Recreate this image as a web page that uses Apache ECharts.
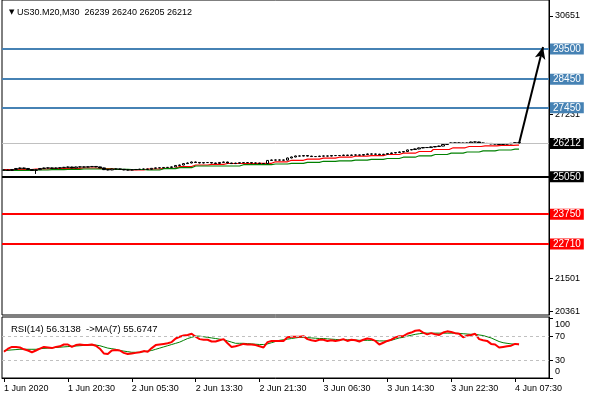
<!DOCTYPE html>
<html>
<head>
<meta charset="utf-8">
<script src="https://cdn.jsdelivr.net/npm/echarts@6/dist/echarts.min.js"></script>
<style>
html, body { margin: 0; padding: 0; background: #fff; }
#chart { width: 590px; height: 400px; }
</style>
</head>
<body>
<div id="chart"></div>
<script>
var symbolName = 'US30.M20,M30'

// M30 bars
var opens = [25280, 25287, 25270, 25305, 25340, 25356, 25340, 25305, 25270, 25300,
  25340, 25356, 25360, 25345, 25358, 25365, 25380, 25390, 25360, 25392,
  25395, 25388, 25400, 25410, 25395, 25360, 25300, 25290, 25320, 25325,
  25310, 25290, 25285, 25300, 25305, 25315, 25320, 25310, 25345, 25360,
  25365, 25375, 25378, 25395, 25445, 25460, 25510, 25530, 25565, 25550,
  25530, 25545, 25548, 25530, 25515, 25550, 25565, 25530, 25510, 25525,
  25540, 25545, 25542, 25530, 25528, 25512, 25510, 25620, 25635, 25632,
  25635, 25630, 25705, 25740, 25775, 25772, 25790, 25770, 25755, 25755,
  25770, 25775, 25772, 25790, 25788, 25792, 25805, 25795, 25808, 25810,
  25805, 25825, 25845, 25840, 25838, 25820, 25835, 25860, 25880, 25895,
  25915, 25930, 25985, 26000, 26020, 26055, 26070, 26068, 26090, 26105,
  26120, 26175, 26210, 26230, 26225, 26228, 26210, 26230, 26260, 26262,
  26230, 26210, 26212, 26195, 26192, 26175, 26190, 26195, 26215, 26239]
var closes = [25287, 25270, 25305, 25340, 25356, 25340, 25305, 25270, 25300, 25340,
  25356, 25360, 25345, 25358, 25365, 25380, 25390, 25360, 25392, 25395,
  25388, 25400, 25410, 25395, 25360, 25300, 25290, 25320, 25325, 25310,
  25290, 25285, 25300, 25305, 25315, 25320, 25310, 25345, 25360, 25365,
  25375, 25378, 25395, 25445, 25460, 25510, 25530, 25565, 25550, 25530,
  25545, 25548, 25530, 25515, 25550, 25565, 25530, 25510, 25525, 25540,
  25545, 25542, 25530, 25528, 25512, 25510, 25620, 25635, 25632, 25635,
  25630, 25705, 25740, 25775, 25772, 25790, 25770, 25755, 25755, 25770,
  25775, 25772, 25790, 25788, 25792, 25805, 25795, 25808, 25810, 25805,
  25825, 25845, 25840, 25838, 25820, 25835, 25860, 25880, 25895, 25915,
  25930, 25985, 26000, 26020, 26055, 26070, 26068, 26090, 26105, 26120,
  26175, 26210, 26230, 26225, 26228, 26210, 26230, 26260, 26262, 26230,
  26210, 26212, 26195, 26192, 26175, 26190, 26195, 26215, 26239, 26212]
var highs = [25310, 25300, 25318, 25352, 25372, 25368, 25350, 25318, 25312, 25352,
  25370, 25380, 25372, 25372, 25385, 25395, 25408, 25400, 25405, 25412,
  25410, 25415, 25425, 25420, 25402, 25368, 25312, 25330, 25340, 25335,
  25318, 25302, 25312, 25318, 25328, 25335, 25330, 25355, 25372, 25380,
  25390, 25392, 25410, 25458, 25475, 25522, 25548, 25580, 25578, 25560,
  25560, 25565, 25558, 25540, 25562, 25580, 25572, 25538, 25540, 25555,
  25560, 25558, 25552, 25545, 25538, 25525, 25632, 25650, 25648, 25652,
  25648, 25718, 25752, 25788, 25790, 25805, 25800, 25780, 25770, 25782,
  25790, 25788, 25802, 25805, 25808, 25820, 25815, 25822, 25825, 25822,
  25840, 25860, 25858, 25855, 25848, 25850, 25872, 25895, 25910, 25930,
  25945, 25998, 26015, 26035, 26070, 26085, 26085, 26105, 26120, 26135,
  26188, 26225, 26245, 26242, 26245, 26238, 26245, 26275, 26278, 26270,
  26240, 26228, 26220, 26208, 26200, 26205, 26210, 26228, 26252, 26240]
var lows = [25262, 25255, 25262, 25298, 25330, 25325, 25290, 25258, 25150, 25290,
  25330, 25340, 25332, 25335, 25348, 25355, 25370, 25350, 25352, 25380,
  25375, 25378, 25390, 25385, 25350, 25285, 25275, 25280, 25308, 25298,
  25278, 25270, 25275, 25290, 25295, 25305, 25298, 25302, 25335, 25350,
  25355, 25362, 25368, 25388, 25435, 25452, 25500, 25520, 25538, 25518,
  25520, 25535, 25518, 25500, 25505, 25540, 25518, 25498, 25500, 25515,
  25530, 25530, 25518, 25515, 25500, 25498, 25502, 25610, 25620, 25622,
  25618, 25622, 25695, 25730, 25760, 25762, 25758, 25742, 25740, 25745,
  25760, 25760, 25762, 25778, 25778, 25782, 25785, 25785, 25798, 25795,
  25795, 25815, 25828, 25825, 25808, 25810, 25825, 25850, 25870, 25885,
  25905, 25922, 25975, 25990, 26010, 26045, 26055, 26058, 26080, 26095,
  26112, 26165, 26200, 26212, 26215, 26198, 26200, 26220, 26248, 26220,
  26198, 26200, 26182, 26180, 26162, 26165, 26180, 26185, 26205, 26205]

// moving averages (drawn as steps)
var maRed = [25304, 25304, 25304, 25304, 25304, 25304, 25304, 25304, 25322, 25322,
  25322, 25322, 25339, 25339, 25339, 25339, 25346, 25346, 25346, 25346,
  25356, 25356, 25356, 25356, 25339, 25339, 25339, 25339, 25304, 25304,
  25304, 25304, 25294, 25294, 25294, 25294, 25322, 25322, 25322, 25322,
  25346, 25346, 25346, 25346, 25409, 25409, 25409, 25409, 25461, 25461,
  25461, 25461, 25485, 25485, 25485, 25485, 25513, 25513, 25513, 25513,
  25513, 25513, 25513, 25513, 25520, 25520, 25520, 25520, 25572, 25572,
  25572, 25572, 25625, 25625, 25625, 25625, 25663, 25663, 25663, 25663,
  25698, 25698, 25698, 25698, 25732, 25732, 25732, 25732, 25767, 25767,
  25767, 25767, 25788, 25788, 25788, 25788, 25826, 25826, 25826, 25826,
  25872, 25872, 25872, 25872, 25931, 25931, 25931, 25931, 26001, 26001,
  26001, 26001, 26060, 26060, 26060, 26060, 26105, 26105, 26105, 26105,
  26129, 26129, 26129, 26129, 26147, 26147, 26147, 26147, 26150, 26150]
var maGreen = [25269, 25269, 25269, 25269, 25276, 25276, 25276, 25276, 25287, 25287,
  25287, 25287, 25297, 25297, 25297, 25297, 25311, 25311, 25311, 25311,
  25322, 25322, 25322, 25322, 25322, 25322, 25322, 25322, 25311, 25311,
  25311, 25311, 25304, 25304, 25304, 25304, 25287, 25287, 25287, 25287,
  25332, 25332, 25332, 25332, 25367, 25367, 25367, 25367, 25426, 25426,
  25426, 25426, 25426, 25426, 25426, 25426, 25426, 25426, 25426, 25426,
  25471, 25471, 25471, 25471, 25471, 25471, 25471, 25471, 25496, 25496,
  25496, 25496, 25520, 25520, 25520, 25520, 25555, 25555, 25555, 25555,
  25590, 25590, 25590, 25590, 25607, 25607, 25607, 25607, 25628, 25628,
  25628, 25628, 25659, 25659, 25659, 25659, 25687, 25687, 25687, 25687,
  25732, 25732, 25732, 25732, 25781, 25781, 25781, 25781, 25826, 25826,
  25826, 25826, 25872, 25872, 25872, 25872, 25913, 25913, 25913, 25913,
  25955, 25955, 25955, 25955, 25983, 25983, 25983, 25983, 26011, 26011]

// RSI(14) and its MA(7)
var rsi = [44, 49, 52, 52, 51, 48, 46, 43, 46, 49,
  52, 51, 50, 52, 53, 56, 56, 52, 55, 56,
  55, 55, 56, 54, 49, 41, 40, 46, 47, 46,
  42, 40, 41, 42, 43, 45, 44, 50, 55, 56,
  57, 58, 60, 66, 69, 71, 72, 74, 69, 65,
  64, 64, 61, 61, 63, 65, 58, 52, 53, 55,
  57, 56, 56, 55, 53, 51, 60, 62, 62, 62,
  62, 68, 69, 69, 69, 70, 65, 63, 62, 64,
  64, 62, 63, 62, 63, 65, 62, 64, 63, 61,
  64, 66, 65, 62, 56, 59, 62, 64, 68, 70,
  70, 74, 76, 79, 80, 76, 73, 75, 73, 72,
  76, 78, 77, 75, 74, 68, 71, 72, 74, 65,
  63, 62, 57, 56, 51, 52, 53, 54, 57, 56.3138]
var rsiMa = [46, 46.5, 47, 47.5, 48, 48, 48, 48, 48, 49,
  49.5, 50, 50.5, 51, 51.5, 52, 52.5, 53, 53.5, 54,
  54.5, 55, 55, 55, 54, 52, 50, 49, 48, 46,
  45, 44, 43, 43, 43, 44, 45, 46, 48, 50,
  52, 54, 56, 58, 60, 63, 66, 68, 70, 70,
  69, 68, 67, 66, 65, 64, 62, 60, 58, 58,
  58, 57.5, 57, 56.5, 56, 56, 57, 59, 61, 63,
  64, 65, 66, 67, 68, 68, 67.5, 67, 66.5, 66,
  66, 65.5, 65, 64.5, 64, 64, 64, 64, 63.5, 63,
  63, 63, 63, 62.5, 62, 62, 62, 63, 65, 67,
  68, 70, 71.5, 73, 74, 75, 75, 75, 75, 75,
  75, 75, 75, 75, 74.5, 74, 73.5, 73, 73, 72,
  71, 69, 67, 64, 61, 59, 58, 57, 56.5, 55.6747]
var rsiLevels = [70, 30]
var rsiTicks = [100, 70, 30, 0]

// price scale ticks and drawn levels
var priceTicks = [30651, 29511, 28371, 27231, 26091, 24951, 23811, 22671, 21501, 20361]
var blueLevels = [29500, 28450, 27450]
var blackLevels = [25050]
var redLevels = [23750, 22710]
var arrowFrom = [129, 26212]
var arrowTo = [135, 29570]

// time axis: 130 bars + empty space on the right
var slotCount = 137
var tickIndex = [0, 16, 32, 48, 64, 80, 96, 112, 128]
var tickText = ['1 Jun 2020', '1 Jun 20:30', '2 Jun 05:30', '2 Jun 13:30', '2 Jun 21:30',
  '3 Jun 06:30', '3 Jun 14:30', '3 Jun 22:30', '4 Jun 07:30']

var cats = []
for (var i = 0; i < slotCount; i++) cats.push(String(i))

var candles = closes.map(function (c, i) {
  return [opens[i], c, lows[i], highs[i]]
})
var last = closes.length - 1
var bid = closes[last]

var font = 'Liberation Sans'

function levelLine (v, color, width, boxColor) {
  return {
    yAxis: v,
    lineStyle: { color: color, width: width, type: 'solid' },
    label: {
      show: true,
      position: 'end',
      distance: 1,
      formatter: String(v),
      color: '#fff',
      backgroundColor: boxColor,
      padding: [1, 3, 0, 3],
      fontSize: 10,
      fontFamily: font
    }
  }
}

var levelData = []
blueLevels.forEach(function (v) { levelData.push(levelLine(v, '#4682B4', 2, '#4682B4')) })
levelData.push(levelLine(bid, '#C0C0C0', 1, '#000'))
blackLevels.forEach(function (v) { levelData.push(levelLine(v, '#000', 2, '#000')) })
redLevels.forEach(function (v) { levelData.push(levelLine(v, '#FF0000', 2, '#FF0000')) })
levelData.push([
  { coord: arrowFrom, symbol: 'none', lineStyle: { color: '#000', width: 2, type: 'solid' }, label: { show: false } },
  { coord: arrowTo, symbol: 'arrow', symbolSize: [8, 12] }
])

var tickSet = {}
tickIndex.forEach(function (idx, k) { tickSet[idx] = tickText[k] })
function isTick (index) { return tickSet[index] !== undefined }

var myChart = echarts.init(document.getElementById('chart'), null, { renderer: 'canvas' })
myChart.setOption({
  animation: false,
  backgroundColor: '#fff',
  title: [
    {
      left: 4,
      top: 3,
      text: '{tri|\u25BC} ' + symbolName + '  ' + [opens[last], highs[last], lows[last], closes[last]].join(' '),
      textStyle: {
        fontSize: 9,
        fontWeight: 'normal',
        fontFamily: font,
        color: '#000',
        rich: {
          tri: { fontSize: 7, color: '#000', fontFamily: 'DejaVu Sans' }
        }
      }
    },
    {
      left: 6,
      top: 319,
      text: 'RSI(14) ' + rsi[last].toFixed(4) + '  ->MA(7) ' + rsiMa[last].toFixed(4),
      textStyle: { fontSize: 9.5, fontWeight: 'normal', fontFamily: font, color: '#000' }
    }
  ],
  grid: [
    { left: 2, right: 41, top: 0, height: 315, show: true, borderColor: '#000', borderWidth: 1, containLabel: false, outerBoundsMode: 'none' },
    { left: 2, right: 41, top: 317, height: 61, show: true, borderColor: '#000', borderWidth: 1, containLabel: false, outerBoundsMode: 'none' }
  ],
  xAxis: [
    {
      type: 'category',
      gridIndex: 0,
      data: cats,
      boundaryGap: true,
      axisLine: { show: false },
      axisTick: { show: false },
      axisLabel: { show: false },
      splitLine: { show: false }
    },
    {
      type: 'category',
      gridIndex: 1,
      data: cats,
      boundaryGap: true,
      axisLine: { show: true, lineStyle: { color: '#000' } },
      axisTick: { show: true, interval: isTick, alignWithLabel: true, length: 4, lineStyle: { color: '#000' } },
      axisLabel: {
        show: true,
        interval: isTick,
        formatter: function (v, index) { return tickSet[index] || '' },
        align: 'left',
        margin: 6,
        fontSize: 9,
        fontFamily: font,
        color: '#000'
      },
      splitLine: { show: false }
    }
  ],
  yAxis: [
    {
      type: 'value',
      gridIndex: 0,
      position: 'right',
      min: 20238,
      max: 31206,
      axisLine: { show: true, lineStyle: { color: '#000' } },
      axisTick: { show: true, length: 4, customValues: priceTicks, lineStyle: { color: '#000' } },
      axisLabel: {
        show: true,
        customValues: priceTicks,
        formatter: function (v) { return String(v) },
        margin: 6,
        fontSize: 9,
        fontFamily: font,
        color: '#000'
      },
      splitLine: { show: false }
    },
    {
      type: 'value',
      gridIndex: 1,
      position: 'right',
      min: 0,
      max: 102,
      axisLine: { show: true, lineStyle: { color: '#000' } },
      axisTick: { show: true, length: 4, customValues: rsiTicks, lineStyle: { color: '#000' } },
      axisLabel: {
        show: true,
        customValues: rsiTicks,
        margin: 6,
        fontSize: 9,
        fontFamily: font,
        color: '#000',
        formatter: function (v) {
          if (v === 100) return '{dn|100}'
          if (v === 0) return '{up|0}'
          return String(v)
        },
        rich: {
          dn: { fontSize: 9, fontFamily: font, color: '#000', padding: [12, 0, 0, 0] },
          up: { fontSize: 9, fontFamily: font, color: '#000', padding: [0, 0, 12, 0] }
        }
      },
      splitLine: { show: false }
    }
  ],
  series: [
    {
      name: 'MA red',
      type: 'line',
      xAxisIndex: 0,
      yAxisIndex: 0,
      data: maRed,
      step: 'middle',
      showSymbol: false,
      lineStyle: { color: '#FF0000', width: 1.2 },
      z: 2
    },
    {
      name: 'MA green',
      type: 'line',
      xAxisIndex: 0,
      yAxisIndex: 0,
      data: maGreen,
      step: 'middle',
      showSymbol: false,
      lineStyle: { color: '#008000', width: 1.2 },
      z: 2
    },
    {
      name: symbolName,
      type: 'candlestick',
      xAxisIndex: 0,
      yAxisIndex: 0,
      data: candles,
      barWidth: 3,
      itemStyle: {
        color: '#fff',
        color0: '#000',
        borderColor: '#000',
        borderColor0: '#000',
        borderWidth: 1
      },
      z: 3,
      markLine: {
        silent: true,
        symbol: ['none', 'none'],
        animation: false,
        data: levelData
      }
    },
    {
      name: 'RSI',
      type: 'line',
      xAxisIndex: 1,
      yAxisIndex: 1,
      data: rsi,
      showSymbol: false,
      lineStyle: { color: '#FF0000', width: 2 },
      z: 3,
      markLine: {
        silent: true,
        symbol: ['none', 'none'],
        label: { show: false },
        lineStyle: { color: '#C0C0C0', width: 1, type: [3, 3] },
        data: rsiLevels.map(function (v) { return { yAxis: v } })
      }
    },
    {
      name: 'RSI MA',
      type: 'line',
      xAxisIndex: 1,
      yAxisIndex: 1,
      data: rsiMa,
      showSymbol: false,
      lineStyle: { color: '#008000', width: 1 },
      z: 2
    }
  ]
})
</script>
</body>
</html>
